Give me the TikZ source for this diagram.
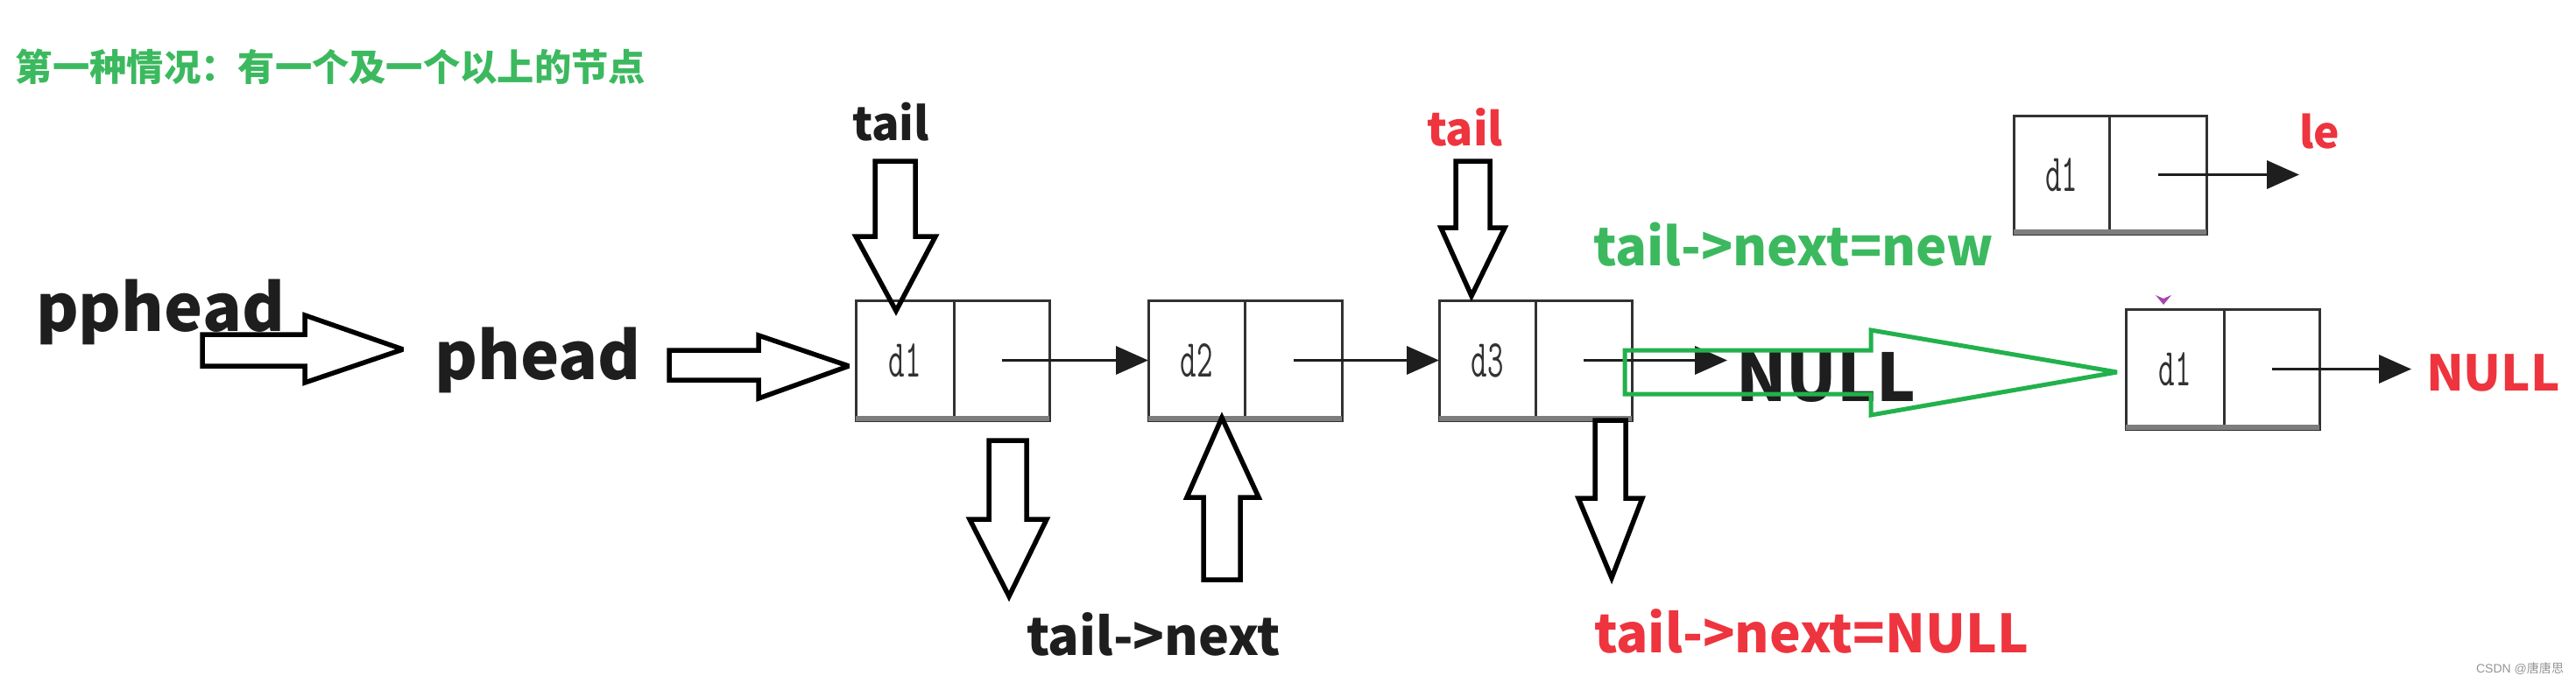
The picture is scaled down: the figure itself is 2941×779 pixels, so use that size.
\documentclass[tikz,border=0pt]{standalone}
\usepackage{fontspec}
\newfontfamily\cjk{Noto Sans CJK SC}
\newfontfamily\lsans{Liberation Sans}
\usetikzlibrary{arrows.meta}
\definecolor{tgreen}{RGB}{60,185,95}
\definecolor{agreen}{RGB}{34,177,76}
\definecolor{tred}{RGB}{238,52,62}
\definecolor{tblack}{RGB}{30,30,30}
\definecolor{tpurple}{RGB}{165,70,175}
\definecolor{boxline}{RGB}{50,50,50}
\definecolor{shadowc}{RGB}{125,125,125}
\newcommand\celltext[1]{\resizebox{37pt}{38pt}{\ttfamily #1}}
\begin{document}
\begin{tikzpicture}[x=1pt,y=-1pt,
  txt/.style={inner sep=0pt, outer sep=0pt, anchor=base west, font=\cjk\bfseries\fontsize{40}{48}\selectfont},
  cell/.style={draw=boxline, line width=3pt, minimum height=137pt, inner sep=0pt, outer sep=0pt, anchor=north west, text=boxline, font=\fontsize{30}{36}\selectfont},
  shadowline/.style={draw=shadowc, line width=6pt},
  ptr/.style={draw=tblack, line width=3.5pt, -{Triangle[length=37pt,width=32pt]}},
  barrow/.style={draw=black, line width=5.5pt, line join=miter, miter limit=3},
  garrow/.style={draw=agreen, line width=5pt, line join=miter, miter limit=3}
]
\useasboundingbox (0,0) rectangle (2941,779);

% title
\node[txt, text=tgreen] (title) at (18,92) {\resizebox{719pt}{!}{第一种情况：有一个及一个以上的节点}};

% labels
\node[txt, text=tblack] (pphead) at (41,378) {\resizebox{284pt}{!}{pphead}};
\node[txt, text=tblack] (phead) at (496,433) {\resizebox{236pt}{!}{phead}};
\node[txt, text=tblack] (tailk) at (973,160) {\resizebox{88pt}{!}{tail}};
\node[txt, text=tred] (tailr) at (1629,166) {\resizebox{87pt}{!}{tail}};
\node[txt, text=tblack] (tnext) at (1172,748) {\resizebox{290pt}{!}{tail->next}};
\node[txt, text=tgreen] (tnew) at (1819,303) {\resizebox{457pt}{!}{tail->next=new}};
\node[txt, text=tred] (tnull) at (1820,745) {\resizebox{496pt}{!}{tail->next=NULL}};
\node[txt, text=tblack] (nullk) at (1982,458) {\resizebox{205pt}{!}{NULL}};
\node[txt, text=tred] (nullr) at (2770,446) {\resizebox{153pt}{!}{NULL}};
\node[txt, text=tred] (le) at (2625,169) {\resizebox{46pt}{!}{le}};
\node[inner sep=0pt, text=black!42] (csdn) at (2877,763) {\resizebox{100pt}{!}{\lsans CSDN @\cjk 唐唐思}};

% list boxes
\node[cell, minimum width=112pt] (d1a) at (977,343) {\celltext{d1}};
\node[cell, minimum width=109pt] (d1b) at (d1a.north east) {};
\node[cell, minimum width=110pt] (d2a) at (1311,343) {\celltext{d2}};
\node[cell, minimum width=111pt] (d2b) at (d2a.north east) {};
\node[cell, minimum width=110pt] (d3a) at (1643,343) {\celltext{d3}};
\node[cell, minimum width=110pt] (d3b) at (d3a.north east) {};
\node[cell, minimum width=109pt, minimum height=135pt] (ta) at (2299,132) {\celltext{d1}};
\node[cell, minimum width=111pt, minimum height=135pt] (tb) at (ta.north east) {};
\node[cell, minimum width=112pt] (na) at (2427,353) {\celltext{d1}};
\node[cell, minimum width=109pt] (nb) at (na.north east) {};

\foreach \l/\r in {d1a/d1b, d2a/d2b, d3a/d3b, ta/tb, na/nb}{
  \draw[shadowline] ([yshift=2pt]\l.south west) -- ([yshift=2pt]\r.south east);
}

% pointer arrows
\draw[ptr] (d1b.center) -- (d2a.west);
\draw[ptr] (d2b.center) -- (d3a.west);
\draw[ptr] (d3b.center) -- ([xshift=-10pt]d3b.center -| nullk.west);
\draw[ptr] (tb.center) -- (tb.center -| le.west);
\draw[ptr] (nb.center) -- ([xshift=-17pt]nb.center -| nullr.west);

% purple mark
\fill[tpurple] (2461,337) -- (2470,341) -- (2479,337) -- (2470,348) -- cycle;

% block arrows
\draw[barrow] (231,382) -- (348,382) -- (348,360) -- (460,399) -- (348,437) -- (348,418) -- (231,418) -- cycle;
\draw[barrow] (764,400) -- (866,400) -- (866,383) -- (969,418) -- (866,455) -- (866,434) -- (764,434) -- cycle;
\draw[barrow] (999,184) -- (1045,184) -- (1045,270) -- (1068,270) -- (1023,355) -- (977,270) -- (999,270) -- cycle;
\draw[barrow] (1662,184) -- (1701,184) -- (1701,260) -- (1718,260) -- (1680,338) -- (1645,260) -- (1662,260) -- cycle;
\draw[barrow] (1129,503) -- (1172,503) -- (1172,593) -- (1195,593) -- (1152,681) -- (1107,593) -- (1129,593) -- cycle;
\draw[barrow] (1374,662) -- (1416,662) -- (1416,568) -- (1437,568) -- (1395,477) -- (1355,568) -- (1374,568) -- cycle;
\draw[barrow] (1821,480) -- (1856,480) -- (1856,569) -- (1875,569) -- (1840,660) -- (1802,569) -- (1821,569) -- cycle;

% green block arrow
\draw[garrow] (1855,400) -- (2136,400) -- (2136,377) -- (2417,425) -- (2136,474) -- (2136,450) -- (1855,450) -- cycle;
\end{tikzpicture}
\end{document}
